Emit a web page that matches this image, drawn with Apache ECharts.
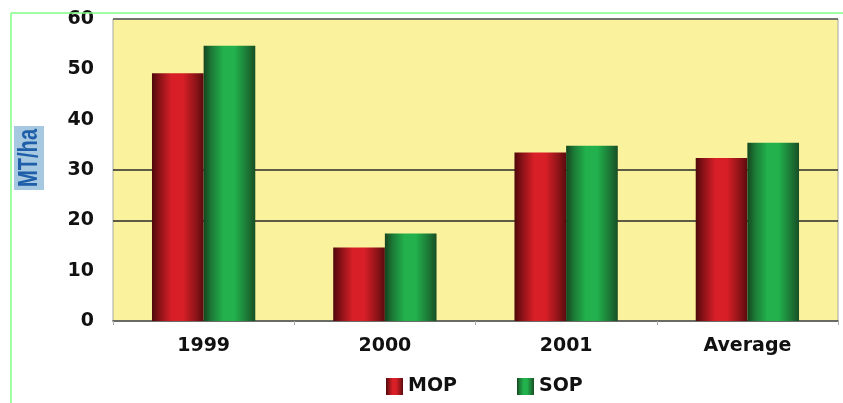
<!DOCTYPE html>
<html>
<head>
<meta charset="utf-8">
<script src="https://cdn.jsdelivr.net/npm/echarts@6/dist/echarts.min.js"></script>
<style>
html,body{margin:0;padding:0;background:#fff;}
#c{width:843px;height:403px;}
</style>
</head>
<body>
<div id="c"></div>
<script>
var categories = ['1999', '2000', '2001', 'Average'];
var mopValues = [49.2, 14.6, 33.5, 32.4];
var sopValues = [54.7, 17.4, 34.8, 35.4];
var yTicks = [0, 10, 20, 30, 40, 50, 60];

var chart = echarts.init(document.getElementById('c'));
var FONT = '"DejaVu Sans", Verdana, sans-serif';

function grad(c0, c1, mid, c3, c4) {
  return new echarts.graphic.LinearGradient(0, 0, 1, 0, [
    {offset: 0, color: c0},
    {offset: 0.15, color: c1},
    {offset: 0.38, color: mid},
    {offset: 0.6, color: mid},
    {offset: 0.85, color: c3},
    {offset: 1, color: c4}
  ]);
}

var option = {
  backgroundColor: '#ffffff',
  animation: false,
  grid: {
    left: 113, right: 5, top: 19, bottom: 82,
    show: true,
    backgroundColor: '#faf29c',
    borderColor: '#a8a8a0',
    borderWidth: 1
  },
  legend: {
    data: ['MOP', 'SOP'],
    left: 381, top: 372,
    itemWidth: 17, itemHeight: 17,
    itemGap: 60,
    icon: 'rect',
    textStyle: {fontFamily: FONT, fontWeight: 'bold', fontSize: 19, color: '#111'}
  },
  xAxis: {
    type: 'category',
    data: categories,
    axisLine: {show: true, lineStyle: {color: '#4a4a4a', width: 1.5}},
    axisTick: {show: true, length: 4, lineStyle: {color: '#aaa'}},
    axisLabel: {margin: 16, fontFamily: FONT, fontWeight: 'bold', fontSize: 19, color: '#111'},
    splitLine: {show: false}
  },
  yAxis: {
    type: 'value',
    min: 0, max: 60, interval: 10,
    axisLine: {show: false},
    axisTick: {show: false},
    axisLabel: {margin: 19, fontFamily: FONT, fontWeight: 'bold', fontSize: 19, color: '#111',
      formatter: function (v) { return yTicks.indexOf(v) >= 0 ? String(v) : ''; }},
    splitLine: {show: true, lineStyle: {width: 1.5, color: ['rgba(0,0,0,0)', 'rgba(0,0,0,0)', '#2a2a2a', '#2a2a2a', 'rgba(0,0,0,0)', 'rgba(0,0,0,0)', '#555']}}
  },
  graphic: [
    {type: 'line', shape: {x1: 11, y1: 13, x2: 843, y2: 13}, style: {stroke: '#80ff80', lineWidth: 1.5}, z: 10},
    {type: 'line', shape: {x1: 11, y1: 13, x2: 11, y2: 403}, style: {stroke: '#80ff80', lineWidth: 1.5}, z: 10},
    {type: 'text', x: 29, y: 158, rotation: Math.PI / 2, scaleX: 0.72,
      style: {text: 'MT/ha', fill: '#1f5ea8', backgroundColor: '#a6c8e0', padding: [1, 4, 1, 4],
        font: 'bold 28px "Liberation Sans", Arial, sans-serif',
        align: 'center', verticalAlign: 'middle'}, z: 10}
  ],
  series: [
    {
      name: 'MOP', type: 'bar', data: mopValues,
      barGap: '0%', barCategoryGap: '43%',
      itemStyle: {color: grad('#4e080b', '#8a1217', '#d81f27', '#8e1418', '#5a0b0e')}
    },
    {
      name: 'SOP', type: 'bar', data: sopValues,
      barGap: '0%', barCategoryGap: '43%',
      itemStyle: {color: grad('#14451f', '#1c7a36', '#22b14c', '#1c7635', '#184e25')}
    }
  ]
};
chart.setOption(option);
</script>
</body>
</html>
